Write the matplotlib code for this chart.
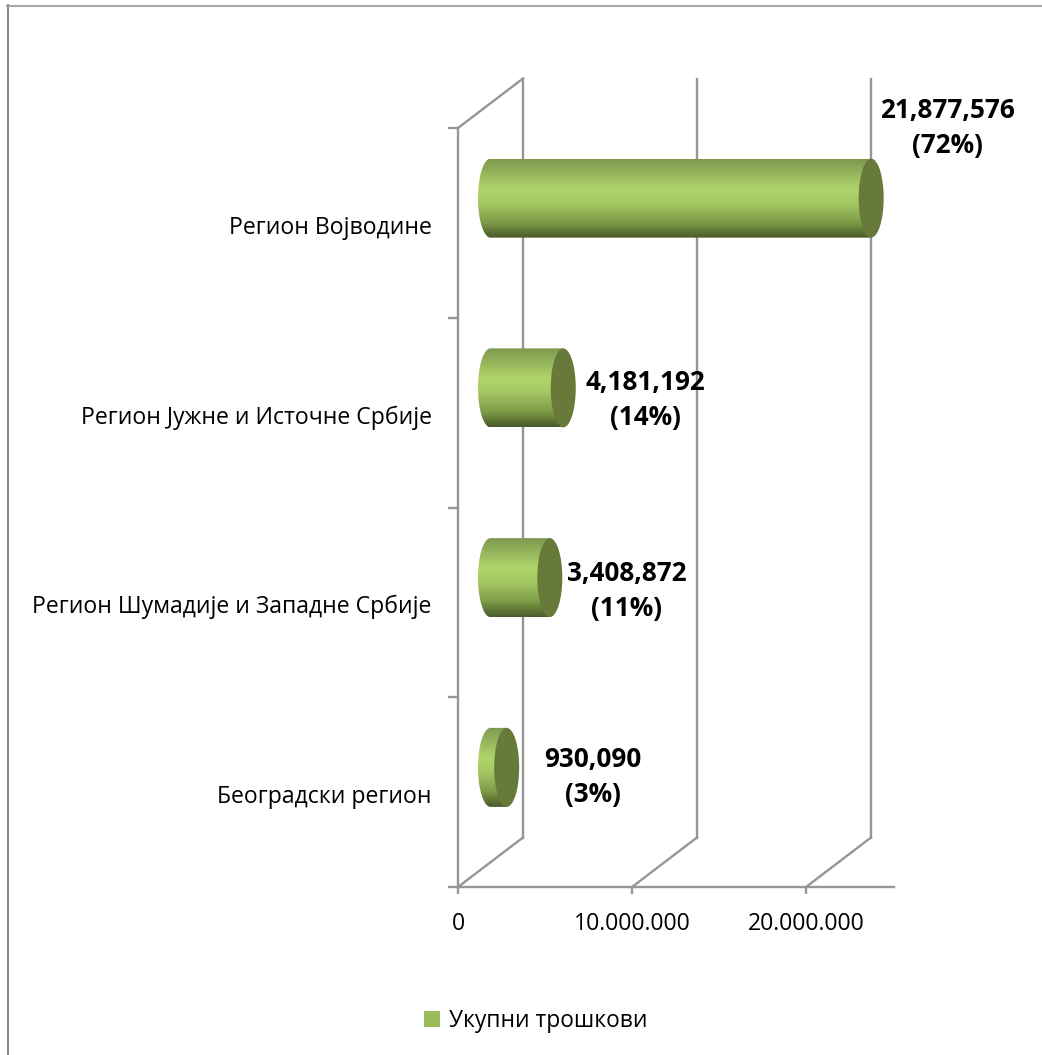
import numpy as np
import matplotlib.pyplot as plt
from matplotlib.colors import LinearSegmentedColormap
from matplotlib.lines import Line2D
from matplotlib.patches import Ellipse, PathPatch, Patch
from matplotlib.path import Path

# ---------------------------------------------------------
# Data
# ---------------------------------------------------------
regions = ['Београдски регион', 'Регион Шумадије и Западне Србије',
           'Регион Јужне и Источне Србије', 'Регион Војводине']
totals = [930090, 3408872, 4181192, 21877576]
shares = ['3%', '11%', '14%', '72%']
x_ticks = [0, 10000000, 20000000]
x_tick_labels = ['0', '10.000.000', '20.000.000']
legend_label = 'Укупни трошкови'

# ---------------------------------------------------------
# Style
# ---------------------------------------------------------
W, H = 1042, 1055
GRID = '#969696'
LW = 1.7
plt.rcParams['font.family'] = ['Open Sans', 'DejaVu Sans']

PX_X = 17.4e-6  # px per unit on x (174 px for 10M)
PX_Y = 1 / 189.75  # y units per px
wall_dx = 65 / PX_X
wall_dy = 49.5 * PX_Y
bar_half_h = 39.5 * PX_Y
cap_half_w = 12.5 / PX_X
# label centre offsets from the bar end, in px
label_dx = [86, 77, 82, 76]
label_dy = [-10, -13, -12, 70]

shade = LinearSegmentedColormap.from_list('cyl', [
    (0.0, '#7e994f'), (0.38, '#b0d56b'), (0.55, '#a5c963'),
    (0.8, '#7f9c49'), (0.95, '#566b30'), (1.0, '#4a5a2a')])

fig = plt.figure(figsize=(W / 100, H / 100), dpi=100)
# chart frame, only top and left edges are in the picture
fig.add_artist(Line2D([8 / W, 8 / W], [0, 1 - 5 / H], transform=fig.transFigure,
                      color='#8c8c8c', lw=1.5))
fig.add_artist(Line2D([7 / W, 1], [1 - 6 / H, 1 - 6 / H], transform=fig.transFigure,
                      color='#a6a6a6', lw=1.5))

ax = fig.add_axes([458 / W, 1 - 887 / H, 436 / W, 759 / H])
ax.patch.set_alpha(0)

for s in ['top', 'right']:
    ax.spines[s].set_visible(False)
for s in ['left', 'bottom']:
    ax.spines[s].set_color(GRID)
    ax.spines[s].set_linewidth(LW)

# back wall gridlines with their floor diagonals
for t in x_ticks:
    ax.plot([t, t + wall_dx], [0, wall_dy], color=GRID, lw=LW, clip_on=False, zorder=1)
    ax.plot([t + wall_dx, t + wall_dx], [wall_dy, 4 + wall_dy], color=GRID, lw=LW,
            clip_on=False, zorder=1)
ax.plot([0, wall_dx], [4, 4 + wall_dy], color=GRID, lw=LW, clip_on=False, zorder=1)

# cylinders
grad = np.linspace(0, 1, 256).reshape(-1, 1)
k = 0.5523
for i, (val, share) in enumerate(zip(totals, shares)):
    x0 = wall_dx / 2
    x1 = val + wall_dx / 2
    yc = i + 0.5 + wall_dy / 2
    y0, y1 = yc - bar_half_h, yc + bar_half_h

    verts = [(x1, y1), (x0, y1),
             (x0 - k * cap_half_w, y1), (x0 - cap_half_w, yc + k * bar_half_h), (x0 - cap_half_w, yc),
             (x0 - cap_half_w, yc - k * bar_half_h), (x0 - k * cap_half_w, y0), (x0, y0),
             (x1, y0), (x1, y1)]
    codes = [Path.MOVETO, Path.LINETO, Path.CURVE4, Path.CURVE4, Path.CURVE4,
             Path.CURVE4, Path.CURVE4, Path.CURVE4, Path.LINETO, Path.CLOSEPOLY]
    body = PathPatch(Path(verts, codes), transform=ax.transData, facecolor='none', edgecolor='none')
    ax.add_patch(body)
    img = ax.imshow(grad, cmap=shade, aspect='auto', zorder=3, interpolation='bilinear',
                    extent=[x0 - cap_half_w, x1, y0, y1], origin='upper')
    img.set_clip_path(body)
    ax.add_patch(Ellipse((x1, yc), 2 * cap_half_w, 2 * bar_half_h, facecolor='#677a3a',
                         edgecolor='none', zorder=4, clip_on=False))

    ax.annotate(f'{val:,}\n({share})', (x1, yc), xytext=(label_dx[i] * 0.72, label_dy[i] * 0.72),
                textcoords='offset points', ha='center', va='center', fontsize=18.8,
                fontweight='bold', color='black', linespacing=1.38, zorder=5, annotation_clip=False)

ax.set_xlim(0, 436 / PX_X)
ax.set_ylim(0, 4)

ax.set_xticks(x_ticks)
ax.set_xticklabels(x_tick_labels, fontsize=16.6, color='black')
ax.tick_params(axis='x', length=5, width=LW, color=GRID, pad=13)
ax.set_yticks(range(5))
ax.set_yticklabels([])
ax.tick_params(axis='y', which='major', length=7, width=LW, color=GRID)
ax.set_yticks([i + 0.49 for i in range(4)], minor=True)
ax.set_yticklabels(regions, minor=True, fontsize=16.6, color='black')
ax.tick_params(axis='y', which='minor', length=0, pad=19)

fig.legend(handles=[Patch(facecolor='#9bbb59', edgecolor='none')], labels=[legend_label],
           loc='center', bbox_to_anchor=(536 / W, 1 - 1021 / H), frameon=False, fontsize=16.4,
           handlelength=0.68, handleheight=0.68, handletextpad=0.4)

fig.savefig('out.png', dpi=100)
